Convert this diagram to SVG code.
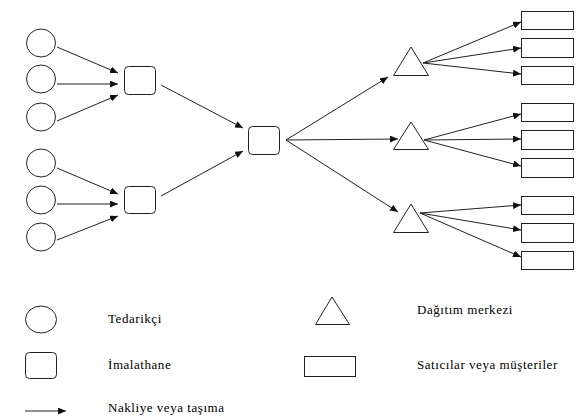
<svg xmlns="http://www.w3.org/2000/svg" width="578" height="418" viewBox="0 0 578 418">
<style>
.s{fill:#fff;stroke:#222;stroke-width:1}
.c{stroke:#222;stroke-width:1;fill:none;marker-end:url(#ah)}
.t{font-family:'Liberation Serif','Times New Roman',serif;font-size:13px;letter-spacing:0.55px;fill:#000}
</style>
<defs>
<marker id="ah" markerUnits="userSpaceOnUse" markerWidth="9" markerHeight="7" refX="8" refY="3.5" orient="auto">
<path d="M0,0 L8,3.5 L0,7 z" fill="#111"/>
</marker>
</defs>
<rect width="578" height="418" fill="#fff"/>
<g id="connectors">
<line class="c" x1="57" y1="47" x2="118" y2="73"/>
<line class="c" x1="57" y1="84" x2="118" y2="84"/>
<line class="c" x1="57" y1="121" x2="118" y2="95"/>
<line class="c" x1="57" y1="168" x2="118" y2="194"/>
<line class="c" x1="57" y1="204" x2="118" y2="204"/>
<line class="c" x1="57" y1="240" x2="118" y2="216"/>
<line class="c" x1="161" y1="85" x2="243" y2="128"/>
<line class="c" x1="161" y1="196" x2="243" y2="151"/>
<line class="c" x1="286" y1="140" x2="388" y2="77"/>
<line class="c" x1="286" y1="140" x2="398" y2="139"/>
<line class="c" x1="286" y1="140" x2="398" y2="212"/>
<line class="c" x1="423" y1="63" x2="521" y2="22"/>
<line class="c" x1="423" y1="63" x2="521" y2="48"/>
<line class="c" x1="423" y1="63" x2="521" y2="74"/>
<line class="c" x1="424" y1="140" x2="521" y2="114"/>
<line class="c" x1="424" y1="140" x2="521" y2="139"/>
<line class="c" x1="424" y1="140" x2="521" y2="166"/>
<line class="c" x1="420" y1="213" x2="521" y2="205"/>
<line class="c" x1="420" y1="213" x2="521" y2="230"/>
<line class="c" x1="420" y1="213" x2="521" y2="257"/>
</g>
<g id="sup1"><ellipse class="s" cx="41" cy="43" rx="14.5" ry="14"/></g>
<g id="sup2"><ellipse class="s" cx="41" cy="79" rx="14.5" ry="14"/></g>
<g id="sup3"><ellipse class="s" cx="41" cy="117" rx="14.5" ry="14"/></g>
<g id="sup4"><ellipse class="s" cx="41" cy="163" rx="14.5" ry="14"/></g>
<g id="sup5"><ellipse class="s" cx="41" cy="200" rx="14.5" ry="14"/></g>
<g id="sup6"><ellipse class="s" cx="41" cy="237" rx="14.5" ry="14"/></g>
<g id="fac1"><rect class="s" x="124.5" y="66.5" width="31" height="28" rx="4"/></g>
<g id="fac2"><rect class="s" x="124.5" y="186.5" width="31" height="27" rx="4"/></g>
<g id="facC"><rect class="s" x="248.5" y="126.5" width="31" height="28" rx="4"/></g>
<g id="dc1"><polygon class="s" points="411,47 393.5,75.5 428.5,75.5"/></g>
<g id="dc2"><polygon class="s" points="411,122 393.5,149.5 428.5,149.5"/></g>
<g id="dc3"><polygon class="s" points="411,204 393.5,232.5 428.5,232.5"/></g>
<g id="r1"><rect class="s" x="521.5" y="11.5" width="52" height="18"/></g>
<g id="r2"><rect class="s" x="521.5" y="38.5" width="52" height="19"/></g>
<g id="r3"><rect class="s" x="521.5" y="66.5" width="52" height="18"/></g>
<g id="r4"><rect class="s" x="521.5" y="103.5" width="52" height="18"/></g>
<g id="r5"><rect class="s" x="521.5" y="130.5" width="52" height="19"/></g>
<g id="r6"><rect class="s" x="521.5" y="158.5" width="52" height="19"/></g>
<g id="r7"><rect class="s" x="521.5" y="196.5" width="52" height="18"/></g>
<g id="r8"><rect class="s" x="521.5" y="223.5" width="52" height="19"/></g>
<g id="r9"><rect class="s" x="521.5" y="251.5" width="52" height="18"/></g>
<g id="legend">
<ellipse class="s" cx="41" cy="319.5" rx="15.5" ry="13.5"/>
<text class="t" x="108" y="323">Tedarikçi</text>
<rect class="s" x="25.5" y="352.5" width="31" height="26" rx="4"/>
<text class="t" x="108" y="369">İmalathane</text>
<line class="c" x1="25" y1="411" x2="66" y2="411"/>
<text class="t" x="108" y="412">Nakliye veya taşıma</text>
<polygon class="s" points="332,297 315.5,324.5 349.5,324.5"/>
<text class="t" x="417" y="314">Dağıtım merkezi</text>
<rect class="s" x="304.5" y="356.5" width="51" height="20"/>
<text class="t" x="417" y="369">Satıcılar veya müşteriler</text>
</g>
</svg>
